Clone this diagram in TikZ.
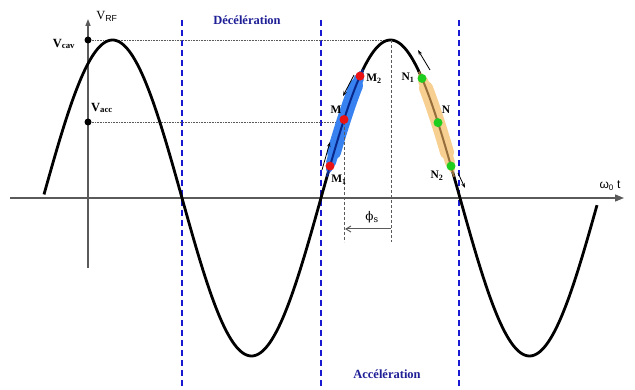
\documentclass[tikz,border=0pt]{standalone}
\usepackage{fontspec}
\setmainfont{Liberation Serif}
\newfontfamily\sansf{Liberation Sans}
\newfontfamily\dserif{DejaVu Serif}
\usetikzlibrary{arrows.meta}
\definecolor{dblue}{RGB}{25,25,210}
\definecolor{tblue}{RGB}{30,30,150}
\definecolor{bandblue}{RGB}{55,130,240}
\definecolor{lineblue}{RGB}{10,40,140}
\definecolor{bandorange}{RGB}{247,208,145}
\definecolor{linebrown}{RGB}{150,110,60}
\definecolor{ptred}{RGB}{235,20,20}
\definecolor{ptgreen}{RGB}{30,205,30}
\definecolor{axisgray}{RGB}{90,90,90}
\begin{document}
\begin{tikzpicture}[x=1pt,y=-1pt,
  declare function={wv(\x)=198-158*sin((\x-43)*1.294964);},
  axisline/.style={draw=axisgray,line width=1.3pt},
  bdash/.style={draw=dblue,line width=1.6pt,dash pattern=on 6pt off 4pt},
  dotline/.style={draw=axisgray,line width=0.8pt,dash pattern=on 0.8pt off 0.8pt},
  kdash/.style={draw=axisgray,line width=0.9pt,dash pattern=on 3pt off 2pt},
  wave/.style={draw=black,line width=2.8pt},
  bandstroke/.style={line cap=round,line join=round},
  sarrow/.style={draw=black,line width=0.8pt,-{Stealth[length=5pt,width=3.5pt]}},
  ptR/.style={circle,fill=ptred,inner sep=0pt,minimum size=9pt},
  ptG/.style={circle,fill=ptgreen,inner sep=0pt,minimum size=9pt},
  ptK/.style={circle,fill=black,inner sep=0pt,minimum size=7pt},
  lbl/.style={font=\fontsize{11.5}{13}\selectfont\bfseries,inner sep=0pt},
  vlbl/.style={font=\fontsize{12.5}{14}\selectfont,inner sep=0pt},
  zone/.style={font=\fontsize{12.5}{14}\selectfont\bfseries,text=tblue,inner sep=0pt}
]
\useasboundingbox (0,0) rectangle (635,390);
% axes
\coordinate (xs) at (10,198);
\coordinate (xe) at (624,198);
\coordinate (ys) at (88,268);
\coordinate (ye) at (88,19);
\draw[axisline,-{Triangle[length=9pt,width=7pt]}] (xs) -- (xe);
\draw[axisline,-{Triangle[length=7pt,width=5pt]}] (ys) -- (ye);
% blue dashed boundaries
\foreach \xx/\nm in {182/b1,321/b2,459/b3}{
  \coordinate (\nm t) at (\xx,20);
  \coordinate (\nm b) at (\xx,386);
  \draw[bdash] (\nm t) -- (\nm b);
}
% reference dots
\node[ptK] (Vc) at (88,40) {};
\node[ptK] (Va) at (88,122) {};
\coordinate (P) at (391,40);
\coordinate (Mp) at (344,122);
\draw[dotline] (Vc) -- (P);
\draw[dotline] (Va) -- (Mp);
% wave
\draw[wave] plot[domain=44:597,samples=300] (\x,{wv(\x)});
% bands (tapered, built from stacked strokes)
\foreach \w/\a/\b in {6/329/361,10/331/359,14/334/356}{
  \draw[bandstroke,bandblue,line width=\w pt] plot[domain=\a:\b,samples=30] (\x,{wv(\x)});
}
\draw[lineblue,line width=2pt] plot[domain=327:363,samples=40] (\x,{wv(\x)});
\foreach \w/\a/\b in {6/421/452,10/423/450,14/426/447}{
  \draw[bandstroke,bandorange,line width=\w pt] plot[domain=\a:\b,samples=30] (\x,{wv(\x)});
}
\draw[linebrown,line width=2pt] plot[domain=419:454,samples=40] (\x,{wv(\x)});
% dashed verticals and phase
\coordinate (Pb) at (391,242);
\coordinate (Mb) at (344,242);
\draw[kdash] (P) -- (Pb);
\draw[kdash] (Mp) -- (Mb);
\coordinate (phR) at (391,229);
\coordinate (phL) at (345,229);
\draw[axisgray,line width=1pt,-{Straight Barb[length=5pt,width=6pt]}] (phR) -- (phL);
\node[font=\fontsize{12}{14}\selectfont\dserif,inner sep=0pt] (phi) at (372,217) {ϕ\textsubscript{\fontsize{9}{10}\selectfont s}};
% particles
\node[ptR] (M1) at (330,{wv(330)}) {};
\node[ptR] (M) at (344,{wv(344)}) {};
\node[ptR] (M2) at (360,{wv(360)}) {};
\node[ptG] (N1) at (422,{wv(422)}) {};
\node[ptG] (N) at (438,{wv(438)}) {};
\node[ptG] (N2) at (451,{wv(451)}) {};
% particle labels
\node[lbl] (lM1) at (339,180) {M\textsubscript{1}};
\node[lbl] (lM) at (336,110) {M};
\node[lbl] (lM2) at (374,79) {M\textsubscript{2}};
\node[lbl] (lN1) at (408,78) {N\textsubscript{1}};
\node[lbl] (lN) at (446,110) {N};
\node[lbl] (lN2) at (437,176) {N\textsubscript{2}};
% motion arrows
\coordinate (a1s) at (354,75); \coordinate (a1e) at (343,96);
\coordinate (a2s) at (322,170); \coordinate (a2e) at (330,142);
\coordinate (a3s) at (430,70); \coordinate (a3e) at (418,50);
\coordinate (a4s) at (458,173); \coordinate (a4e) at (465,188);
\draw[sarrow] (a1s) -- (a1e);
\draw[sarrow] (a2s) -- (a2e);
\draw[sarrow] (a3s) -- (a3e);
\draw[sarrow] (a4s) -- (a4e);
% texts
\node[vlbl] (vrf) at (107,16) {V\textsubscript{\sansf RF}};
\node[vlbl,font=\fontsize{12.5}{14}\selectfont\bfseries] (vcav) at (64,44) {V\textsubscript{cav}};
\node[vlbl,font=\fontsize{12.5}{14}\selectfont\bfseries] (vacc) at (102,108) {V\textsubscript{acc}};
\node[zone] (dec) at (247,20) {Décélération};
\node[zone] (acc) at (387,374) {Accélération};
\node[font=\fontsize{12}{14}\selectfont\sansf,inner sep=0pt] (wt) at (610,186) {ω\textsubscript{0} t};
\end{tikzpicture}
\end{document}
